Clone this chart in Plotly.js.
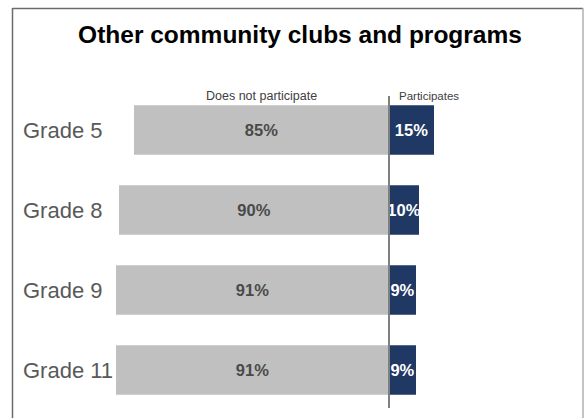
<!DOCTYPE html>
<html>
<head>
<meta charset="utf-8">
<script src="https://cdn.plot.ly/plotly-3.0.1.min.js"></script>
<style>
html,body{margin:0;padding:0;background:#fff;}
#chart{width:584px;height:418px;}
</style>
</head>
<body>
<div id="chart"></div>
<script>
var grades = ["Grade 5", "Grade 8", "Grade 9", "Grade 11"];
var notParticipate = [85, 90, 91, 91];
var participates = [15, 10, 9, 9];
var seriesNames = ["Does not participate", "Participates"];
var chartTitle = "Other community clubs and programs";

var FONT = "Liberation Sans, Arial, sans-serif";

var traceNo = {
  type: "bar",
  orientation: "h",
  y: grades,
  x: notParticipate.map(function (v) { return -v; }),
  text: notParticipate.map(function (v) { return v + "%"; }),
  textposition: "inside",
  insidetextanchor: "middle",
  textangle: 0,
  constraintext: "none",
  textfont: { family: FONT, size: 16.5, color: "#4a4a4a", weight: "bold" },
  marker: { color: "#c0c0c0" },
  width: 0.62,
  name: seriesNames[0],
  hoverinfo: "skip"
};
var traceYes = {
  type: "bar",
  orientation: "h",
  y: grades,
  x: participates,
  text: participates.map(function (v) { return v + "%"; }),
  textposition: "inside",
  insidetextanchor: "middle",
  textangle: 0,
  constraintext: "none",
  textfont: { family: FONT, size: 16.5, color: "#ffffff", weight: "bold" },
  marker: { color: "#1f3864" },
  width: 0.62,
  name: seriesNames[1],
  hoverinfo: "skip"
};

var gradeAnnotations = grades.map(function (g) {
  return {
    text: g, x: (21 - 112) / 462, xref: "paper", y: g, yref: "y",
    xanchor: "left", yanchor: "middle", showarrow: false,
    font: { family: FONT, size: 22, color: "#595959" }
  };
});

var layout = {
  width: 584,
  height: 418,
  margin: { l: 112, r: 10, t: 90, b: 8 },
  paper_bgcolor: "#ffffff",
  plot_bgcolor: "#ffffff",
  barmode: "relative",
  showlegend: false,
  title: {
    text: chartTitle,
    font: { family: FONT, size: 24.5, color: "#000000", weight: "bold" },
    x: 300 / 584, xref: "container", xanchor: "center",
    y: 1 - 34 / 418, yref: "container", yanchor: "middle"
  },
  xaxis: {
    range: [-92.333, 61.667],
    showgrid: false, zeroline: false, showline: false,
    showticklabels: false, ticks: "", fixedrange: true
  },
  yaxis: {
    type: "category",
    categoryorder: "array",
    categoryarray: grades,
    range: [3.5, -0.5],
    showgrid: false, zeroline: false, showline: false,
    showticklabels: false,
    ticks: "",
    fixedrange: true
  },
  annotations: [
    {
      text: seriesNames[0], x: -42.5, xref: "x", y: (410 - 96) / 320, yref: "paper",
      xanchor: "center", yanchor: "middle", showarrow: false,
      font: { family: FONT, size: 12.5, color: "#404040" }
    },
    {
      text: seriesNames[1], x: 2.5, xref: "x", y: (410 - 96) / 320, yref: "paper",
      xanchor: "left", yanchor: "middle", showarrow: false,
      font: { family: FONT, size: 11.5, color: "#404040" }
    }
  ].concat(gradeAnnotations),
  shapes: [
    {
      type: "line", xref: "x", yref: "paper",
      x0: 0, x1: 0, y0: (410 - 408) / 320, y1: (410 - 96) / 320,
      line: { color: "#7f7f7f", width: 2 }, layer: "above"
    },
    {
      type: "line", xref: "paper", yref: "paper",
      x0: (12.5 - 112) / 462, x1: (12.5 - 112) / 462,
      y0: (410 - 8) / 320, y1: (410 - 425) / 320,
      line: { color: "#6b6b6b", width: 1.5 }
    },
    {
      type: "line", xref: "paper", yref: "paper",
      x0: (12.5 - 112) / 462, x1: (583 - 112) / 462,
      y0: (410 - 8.5) / 320, y1: (410 - 8.5) / 320,
      line: { color: "#6b6b6b", width: 1.5 }
    },
    {
      type: "line", xref: "paper", yref: "paper",
      x0: (583 - 112) / 462, x1: (583 - 112) / 462,
      y0: (410 - 8) / 320, y1: (410 - 425) / 320,
      line: { color: "#b0b0b0", width: 1.5 }
    }
  ]
};

Plotly.newPlot("chart", [traceNo, traceYes], layout, { displayModeBar: false, staticPlot: true });
</script>
</body>
</html>
